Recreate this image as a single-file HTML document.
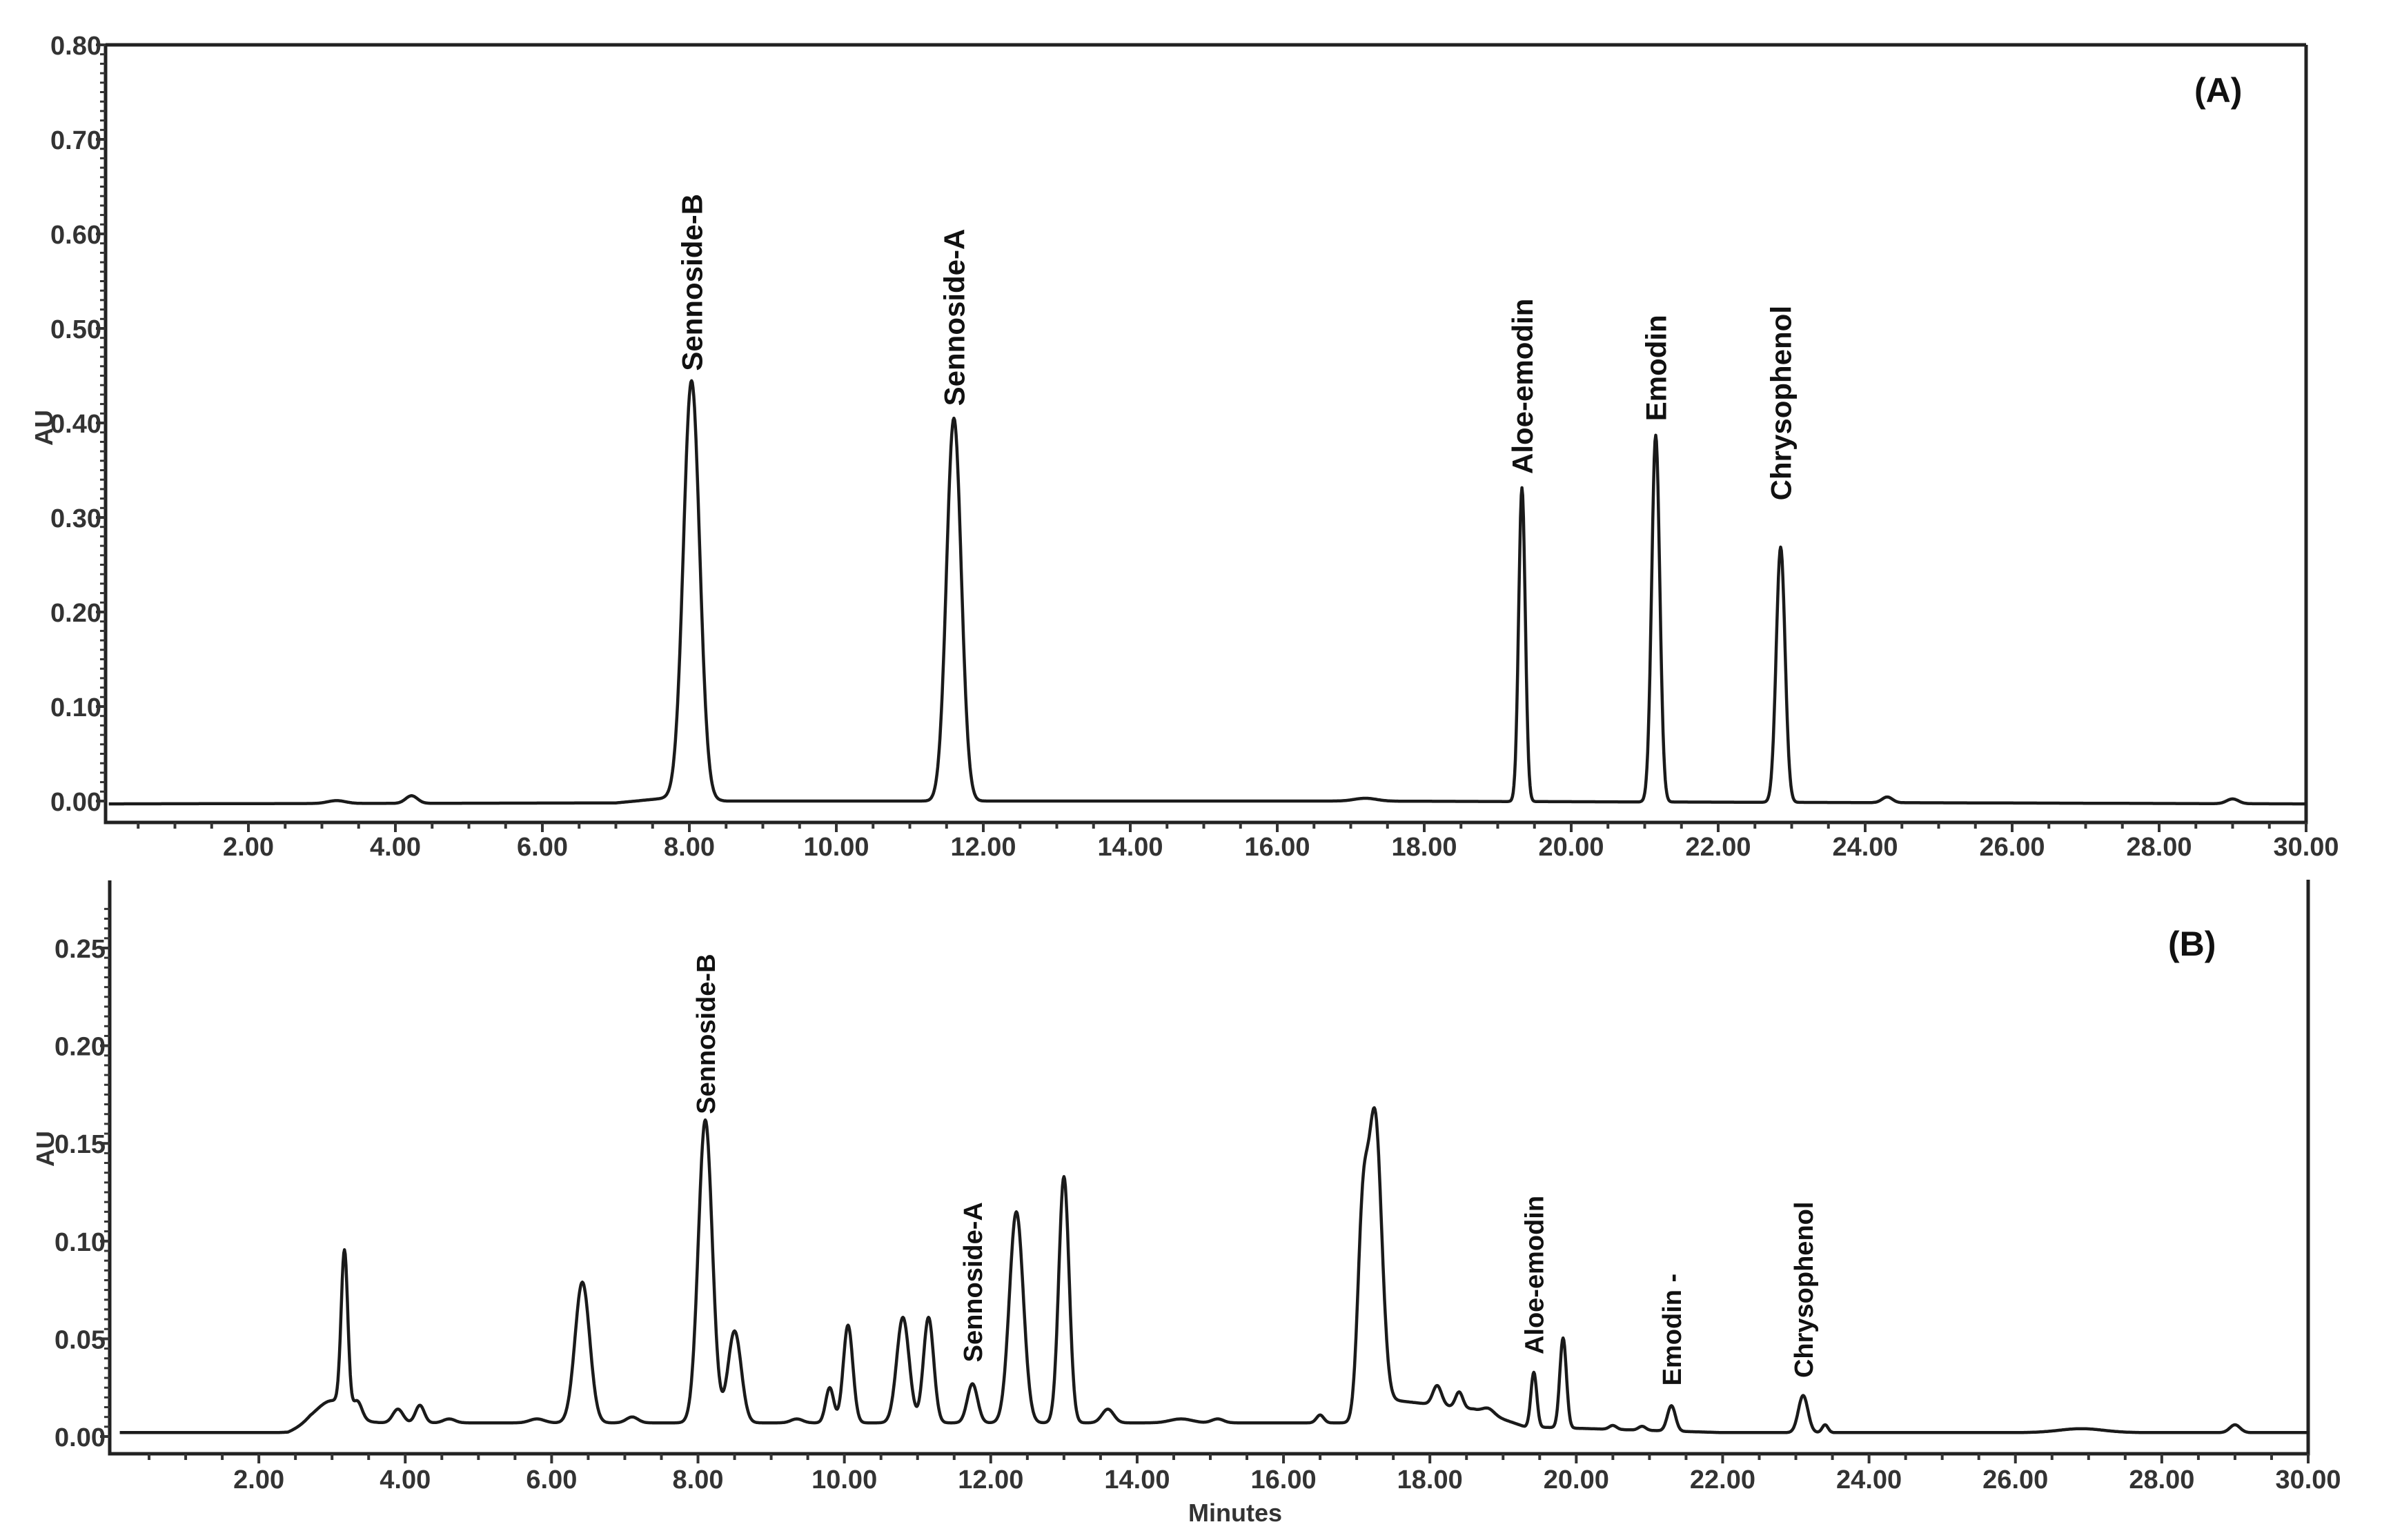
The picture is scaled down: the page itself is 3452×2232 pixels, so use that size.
<!DOCTYPE html>
<html><head><meta charset="utf-8"><style>
html,body{margin:0;padding:0;background:#fff;}
svg{display:block;font-family:"Liberation Sans",Arial,sans-serif;}
</style></head><body>
<svg id="chart" width="3452" height="2232" viewBox="0 0 3452 2232"></svg>
<script>
// ---- data ----
const xTicks = [2,4,6,8,10,12,14,16,18,20,22,24,26,28,30];
const xTickLabels = ["2.00","4.00","6.00","8.00","10.00","12.00","14.00","16.00","18.00","20.00","22.00","24.00","26.00","28.00","30.00"];
const yTicksA = [0,0.1,0.2,0.3,0.4,0.5,0.6,0.7,0.8];
const yTickLabelsA = ["0.00","0.10","0.20","0.30","0.40","0.50","0.60","0.70","0.80"];
const yTicksB = [0,0.05,0.1,0.15,0.2,0.25];
const yTickLabelsB = ["0.00","0.05","0.10","0.15","0.20","0.25"];
// panel A peaks: retention time, height (AU), width (min)
const peakTimesA = [3.2,4.22,8.03,11.6,17.2,19.33,21.15,22.85,24.3,29.0];
const peakHeightsA = [0.003,0.008,0.442,0.405,0.003,0.332,0.388,0.27,0.006,0.005];
const peakWidthsA = [0.12,0.08,0.11,0.1,0.15,0.045,0.055,0.06,0.07,0.08];
const baseTimesA = [0,7,7.8,8.5,17,30];
const baseValsA = [-0.003,-0.002,0.004,0.0,0.0,-0.003];
// panel B peaks
const peakTimesB = [3.0,3.17,3.35,3.9,4.2,4.6,5.8,6.42,7.1,8.1,8.5,9.35,9.8,10.05,10.8,11.15,11.75,12.35,13.0,13.6,14.6,15.1,16.5,17.08,17.25,18.1,18.4,18.8,19.42,19.82,20.5,20.9,21.3,23.1,23.4,26.9,29.0];
const peakHeightsB = [0.012,0.08,0.008,0.007,0.009,0.002,0.002,0.072,0.003,0.155,0.047,0.002,0.018,0.05,0.054,0.054,0.02,0.108,0.126,0.007,0.002,0.002,0.004,0.095,0.148,0.01,0.008,0.003,0.028,0.046,0.002,0.002,0.013,0.019,0.004,0.002,0.004];
const peakWidthsB = [0.22,0.045,0.06,0.07,0.06,0.08,0.1,0.1,0.08,0.095,0.09,0.08,0.055,0.065,0.085,0.07,0.07,0.095,0.07,0.08,0.15,0.08,0.05,0.07,0.09,0.06,0.05,0.08,0.04,0.045,0.05,0.05,0.055,0.065,0.04,0.3,0.07];
const baseTimesB = [0,2.4,2.7,3.5,17.0,17.4,18.6,19.3,22,30];
const baseValsB = [0.002,0.002,0.006,0.007,0.007,0.019,0.014,0.005,0.002,0.002];
const labelsA = ["Sennoside-B","Sennoside-A","Aloe-emodin","Emodin","Chrysophenol"];
const labelTimesA = [8.03,11.6,19.33,21.15,22.85];
const labelValsA = [0.455,0.418,0.346,0.402,0.318];
const labelsB = ["Sennoside-B","Sennoside-A","Aloe-emodin","Emodin -","Chrysophenol"];
const labelTimesB = [8.1,11.75,19.42,21.3,23.1];
const labelValsB = [0.165,0.038,0.042,0.026,0.03];

// ---- scales ----
const NS="http://www.w3.org/2000/svg";
const svg=document.getElementById('chart');
function mk(tag,attrs,parent){const e=document.createElementNS(NS,tag);for(const k in attrs)e.setAttribute(k,attrs[k]);(parent||svg).appendChild(e);return e;}
const panels=[
 {key:'a',x0:147,x1:3342,axL:153,yTop:65,yZero:1161,pxPerAU:1370,axBottom:1192,labelY:1240,yT:yTicksA,yL:yTickLabelsA,minor:0.01,
  pt:peakTimesA,ph:peakHeightsA,pw:peakWidthsA,bt:baseTimesA,bv:baseValsA,lab:labelsA,lt:labelTimesA,lv:labelValsA,bold:true,lfs:42,tag:"(A)",tagX:3180,tagY:148,rightTop:65},
 {key:'b',x0:163,x1:3345,axL:159,yTop:1276,yZero:2082,pxPerAU:2832,axBottom:2107,labelY:2157,yT:yTicksB,yL:yTickLabelsB,minor:0.005,
  pt:peakTimesB,ph:peakHeightsB,pw:peakWidthsB,bt:baseTimesB,bv:baseValsB,lab:labelsB,lt:labelTimesB,lv:labelValsB,bold:false,lfs:38,tag:"(B)",tagX:3142,tagY:1385,rightTop:1275}
];
function interp(ts,vs,t){for(let i=0;i<ts.length-1;i++){if(t<=ts[i+1]){const f=(t-ts[i])/(ts[i+1]-ts[i]);return vs[i]+f*(vs[i+1]-vs[i]);}}return vs[vs.length-1];}

panels.forEach(p=>{
 const X=t=>p.x0+(p.x1-p.x0)*t/30;
 const Y=v=>p.yZero-v*p.pxPerAU;
 const g=mk('g',{});
 
 
 const ax=mk('path',{d:`M${p.axL},${p.yTop} L${p.axL},${p.axBottom} L${X(30)},${p.axBottom} L${X(30)},${p.rightTop}`+(p.key==='a'?` M${p.axL},${p.yTop} L${X(30)},${p.yTop}`:''),fill:'none',stroke:'#222','stroke-width':5},g);
 
 
 for(let t=0.5;t<=30.001;t+=0.5){
  const tk=mk('line',{x1:X(t),x2:X(t),y1:p.axBottom,y2:p.axBottom+(Math.abs(t-Math.round(t/2)*2)<0.01?14:9),stroke:'#333','stroke-width':4},g);
  
  
 }
 xTicks.forEach((t,i)=>{
  const tx=mk('text',{x:X(t),y:p.labelY,'text-anchor':'middle','font-size':38,'font-weight':'bold',fill:'#333'},g);
  tx.textContent=xTickLabels[i];
  
  
 });
 const ymax=p.yT[p.yT.length-1];
 for(let v=0;v<=ymax+p.minor*0.5+ (p.key==='b'?0.02:0);v+=p.minor){
  const yy=Y(v); if(yy<p.yTop)break;
  const mt=mk('line',{x1:p.axL-8,x2:p.axL,y1:yy,y2:yy,stroke:'#333','stroke-width':3},g);
  
  
 }
 p.yT.forEach((v,i)=>{
  const tl=mk('line',{x1:p.axL-14,x2:p.axL,y1:Y(v),y2:Y(v),stroke:'#333','stroke-width':4},g);
  
  
  const tx=mk('text',{x:p.axL-6,y:Y(v)+14,'text-anchor':'end','font-size':38,'font-weight':'bold',fill:'#333'},g);
  tx.textContent=p.yL[i];
  
  
 });
 const au=mk('text',{x:0,y:0,transform:`translate(${p.key==='a'?76:78},${p.key==='a'?620:1665}) rotate(-90)`,'text-anchor':'middle','font-size':36,'font-weight':'bold',fill:'#333'},g);
 au.textContent='AU';
 
 
 let d='';
 for(let t=0.1;t<=30.0001;t+=0.01){
  let v=interp(p.bt,p.bv,t);
  for(let k=0;k<p.pt.length;k++){const z=(t-p.pt[k])/p.pw[k];v+=p.ph[k]*Math.exp(-0.5*z*z);}
  d+=(d?'L':'M')+X(t).toFixed(1)+','+Y(v).toFixed(1);
 }
 const tr=mk('path',{d:d,fill:'none',stroke:'#1a1a1a','stroke-width':4.5,'stroke-linejoin':'round'},g);
 
 
 p.lab.forEach((s,i)=>{
  const x=X(p.lt[i])+p.lfs*0.36, y=Y(p.lv[i]);
  const tx=mk('text',{x:0,y:0,transform:`translate(${x},${y}) rotate(-90)`,'font-size':p.lfs,'font-weight':p.bold?'bold':'600',fill:'#111'},g);
  tx.textContent=s;
  
  
 });
 const tg=mk('text',{x:p.tagX,y:p.tagY,'font-size':50,'font-weight':'bold',fill:'#111'},g);
 tg.textContent=p.tag;
 
 
});
const mn=mk('text',{x:1790,y:2205,'text-anchor':'middle','font-size':36,'font-weight':'bold',fill:'#333'});
mn.textContent='Minutes';


</script>
</body></html>
